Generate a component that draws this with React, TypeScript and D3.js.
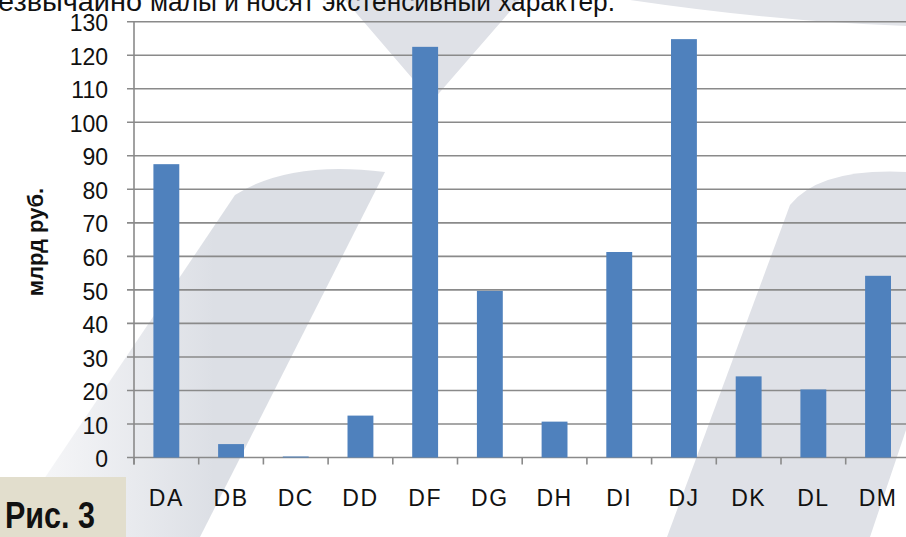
import * as React from 'react'
import * as d3 from 'd3'

const categories = ['DA', 'DB', 'DC', 'DD', 'DF', 'DG', 'DH', 'DI', 'DJ', 'DK', 'DL', 'DM']
const values = [87.5, 4, 0.3, 12.5, 122.5, 49.7, 10.7, 61.3, 124.8, 24.2, 20.3, 54.2]
const yTicks = [0, 10, 20, 30, 40, 50, 60, 70, 80, 90, 100, 110, 120, 130]
const yTitle = 'млрд руб.'
const topWords = ['езвычайно', 'малы и носят экстенсивный характер.']
const figLabel = 'Рис. 3'

const FONT = 'Liberation Sans, Arial, sans-serif'

function drawChart(svg: d3.Selection<SVGSVGElement, unknown, null, undefined>, dims: any) {
	svg.selectAll('*').remove()

	const defs = svg.append('defs')
	const gl = defs.append('linearGradient').attr('id', 'fadeL').attr('x1', '0').attr('x2', '1').attr('y1', '0').attr('y2', '0')
	gl.append('stop').attr('offset', '0').attr('stop-color', '#dfe1e7').attr('stop-opacity', 0.15)
	gl.append('stop').attr('offset', '0.55').attr('stop-color', '#dcdfe5').attr('stop-opacity', 1)
	gl.append('stop').attr('offset', '1').attr('stop-color', '#dcdfe5').attr('stop-opacity', 1)

	// faint watermark swooshes behind the chart
	const wm = svg.append('g')
	wm.append('path').attr('d', 'M 345,0 L 520,0 L 440,92 Q 432,102 424,92 Z').attr('fill', '#dfe1e7')
	wm.append('path').attr('d', 'M 630,0 L 906,0 L 906,26 Q 780,22 630,0 Z').attr('fill', '#e2e4e9')
	wm.append('path').attr('d', 'M 5,537 L 235,195 Q 290,160 385,172 L 200,537 Z').attr('fill', 'url(#fadeL)')
	wm.append('path').attr('d', 'M 667,537 L 790,205 Q 820,168 906,172 L 906,430 L 870,537 Z').attr('fill', '#dfe1e7')

	// cut-off line of the surrounding text
	const top = svg.append('text')
		.attr('y', 11)
		.style('font-family', FONT).style('font-size', '27px')
		.attr('fill', '#111')
	top.append('tspan').attr('x', -2).attr('textLength', 144).attr('lengthAdjust', 'spacingAndGlyphs').text(topWords[0])
	top.append('tspan').attr('x', 150).attr('textLength', 465).attr('lengthAdjust', 'spacingAndGlyphs').text(topWords[1])

	const y = d3.scaleLinear().domain([0, 130]).range([dims.bottom, dims.top])
	const x = d3.scaleBand<string>()
		.domain(categories)
		.range([dims.left, dims.right])
		.paddingInner(0.6)
		.paddingOuter(0.3)
	const step = x.step()

	// gridlines
	svg.append('g')
		.selectAll('line')
		.data(yTicks)
		.enter()
		.append('line')
		.attr('x1', dims.left - 7).attr('x2', 906)
		.attr('y1', d => y(d)).attr('y2', d => y(d))
		.attr('stroke', '#8a8a8a').attr('stroke-width', 1.6)

	svg.append('line')
		.attr('x1', dims.left).attr('x2', dims.left)
		.attr('y1', y(130)).attr('y2', y(0) + 7)
		.attr('stroke', '#8a8a8a').attr('stroke-width', 1.6)

	svg.append('g')
		.selectAll('line')
		.data(d3.range(categories.length + 1))
		.enter()
		.append('line')
		.attr('x1', i => dims.left + i * step).attr('x2', i => dims.left + i * step)
		.attr('y1', y(0)).attr('y2', y(0) + 7)
		.attr('stroke', '#8a8a8a').attr('stroke-width', 1.6)

	svg.append('g')
		.selectAll('text')
		.data(yTicks)
		.enter()
		.append('text')
		.attr('x', 108).attr('y', d => y(d))
		.attr('dy', '0.42em')
		.attr('text-anchor', 'end')
		.style('font-family', FONT).style('font-size', '23px')
		.attr('fill', '#111')
		.text(d => d)

	// bars
	svg.append('g')
		.selectAll('rect')
		.data(values)
		.enter()
		.append('rect')
		.attr('x', (_, i) => x(categories[i])!)
		.attr('width', x.bandwidth())
		.attr('y', d => y(d))
		.attr('height', d => y(0) - y(d))
		.attr('fill', '#4f81bd')

	svg.append('g')
		.selectAll('text')
		.data(categories)
		.enter()
		.append('text')
		.attr('x', d => x(d)! + x.bandwidth() / 2)
		.attr('y', 506)
		.attr('text-anchor', 'middle')
		.style('font-family', FONT).style('font-size', '23px')
		.style('letter-spacing', '1.5px')
		.attr('fill', '#111')
		.text(d => d)

	svg.append('text')
		.attr('transform', 'translate(43, 242) rotate(-90)')
		.attr('text-anchor', 'middle')
		.style('font-family', FONT).style('font-size', '22px').style('font-weight', 'bold')
		.attr('fill', '#111')
		.text(yTitle)

	svg.append('rect')
		.attr('x', 0).attr('y', 477).attr('width', 126).attr('height', 60)
		.attr('fill', '#e2decd')
	svg.append('text')
		.attr('x', 5).attr('y', 528)
		.attr('textLength', 90).attr('lengthAdjust', 'spacingAndGlyphs')
		.style('font-family', FONT).style('font-size', '37px').style('font-weight', 'bold')
		.attr('fill', '#111')
		.text(figLabel)
}

const App: React.FC = () => {
	const dims = { width: 906, height: 537, left: 134, right: 910.4, top: 21.7, bottom: 457.5 }
	const svgRef = React.useRef<SVGSVGElement>(null)

	React.useEffect(() => {
		if (svgRef.current) drawChart(d3.select(svgRef.current), dims)
	})

	return (
		<svg
			ref={svgRef}
			width={dims.width}
			height={dims.height}
			style={{ position: 'fixed', left: 0, top: 0, background: '#fff' }}
		/>
	)
}

export default App
